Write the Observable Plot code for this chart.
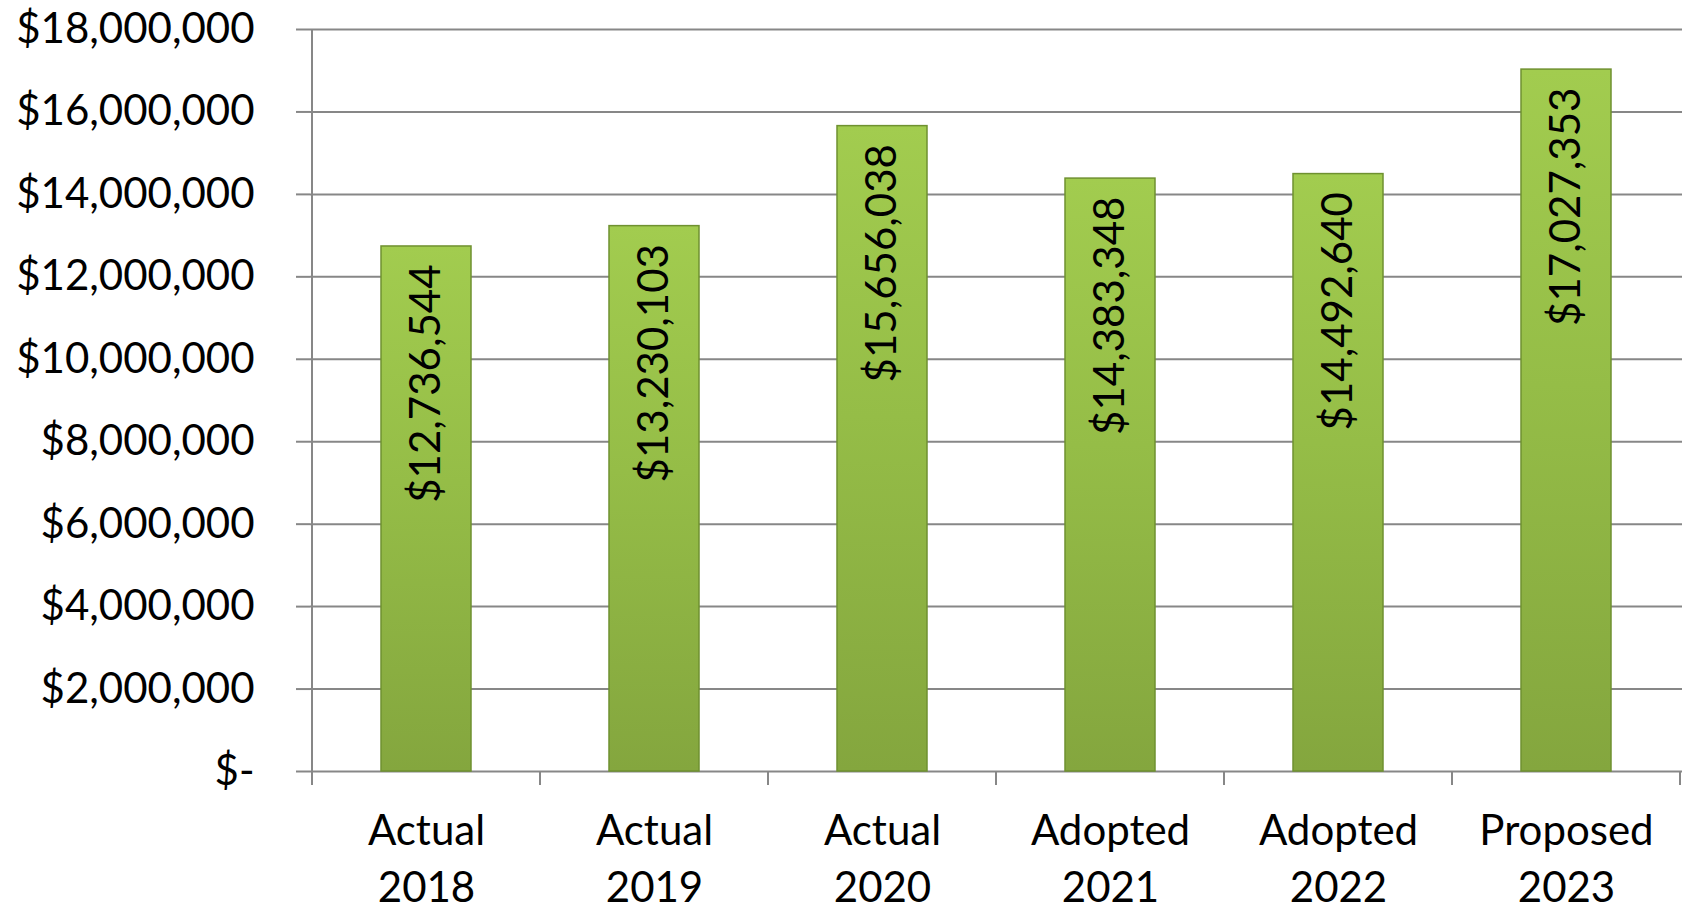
<!DOCTYPE html>
<html>
<head>
<meta charset="utf-8">
<script src="https://cdn.jsdelivr.net/npm/d3@7"></script>
<script src="https://cdn.jsdelivr.net/npm/@observablehq/plot@0.6"></script>
<style>
  html, body { margin: 0; padding: 0; background: #ffffff; }
  #chart { width: 1691px; height: 910px; }
  svg { font-family: Lato, "Open Sans", sans-serif; }
</style>
</head>
<body>
<div id="chart"></div>
<script>
const categories = ["Actual\n2018", "Actual\n2019", "Actual\n2020", "Adopted\n2021", "Adopted\n2022", "Proposed\n2023"];
const values = [12736544, 13230103, 15656038, 14383348, 14492640, 17027353];
const yTicks = [0, 2000000, 4000000, 6000000, 8000000, 10000000, 12000000, 14000000, 16000000, 18000000];

const data = categories.map((c, i) => ({category: c, value: values[i]}));
const money = d => d === 0 ? "$-" : "$" + d3.format(",")(d);

const gridColor = "#878787";
const fs = 42;

const plot = Plot.plot({
  width: 1691,
  height: 910,
  marginLeft: 310,
  marginRight: 9,
  marginTop: 29,
  marginBottom: 139,
  style: {fontFamily: "Lato, 'Open Sans', sans-serif", fontSize: fs + "px", color: "#000", background: "#fff"},
  x: {domain: categories, paddingInner: 0.606, paddingOuter: 0.303, label: null},
  y: {domain: [0, 18000000], label: null},
  marks: [
    Plot.ruleY(yTicks, {stroke: gridColor, strokeWidth: 2}),
    Plot.axisY({ticks: yTicks, tickFormat: money, tickSize: 14, tickPadding: 42, stroke: gridColor, strokeWidth: 2, fontSize: fs, fill: "#000", label: null}),
    Plot.axisX({tickSize: 0, tickPadding: 33, fontSize: fs, fill: "#000", lineHeight: 1.36, label: null}),
    Plot.barY(data, {x: "category", y: "value", fill: "url(#barGrad)", stroke: "#6f9130", strokeWidth: 1.5}),
    Plot.text(data, {x: "category", y: "value", text: d => money(d.value), rotate: -90, textAnchor: "end", dy: 18, fontSize: fs, fill: "#000"})
  ]
});

// gradient for bars
const svg = d3.select(plot);
const defs = svg.insert("defs", ":first-child");
const grad = defs.append("linearGradient").attr("id", "barGrad").attr("x1", 0).attr("y1", 0).attr("x2", 0).attr("y2", 1);
grad.append("stop").attr("offset", "0%").attr("stop-color", "#a2cc4f");
grad.append("stop").attr("offset", "45%").attr("stop-color", "#95bd47");
grad.append("stop").attr("offset", "100%").attr("stop-color", "#84a63e");

// category boundary ticks and the vertical axis line, from the library's scales
const sx = plot.scale("x");
const sy = plot.scale("y");
const step = sx.step;
const gap = step - sx.bandwidth;
const bounds = categories.map(c => sx.apply(c) - gap / 2);
bounds.push(bounds[bounds.length - 1] + step);
const y0 = sy.apply(0);
const yTop = sy.apply(yTicks[yTicks.length - 1]);
const g = svg.append("g").attr("stroke", gridColor).attr("stroke-width", 2);
g.append("line").attr("x1", bounds[0]).attr("x2", bounds[0]).attr("y1", yTop).attr("y2", y0 + 14);
bounds.slice(1).forEach(b => {
  g.append("line").attr("x1", b).attr("x2", b).attr("y1", y0).attr("y2", y0 + 14);
});

document.getElementById("chart").appendChild(plot);
</script>
</body>
</html>
